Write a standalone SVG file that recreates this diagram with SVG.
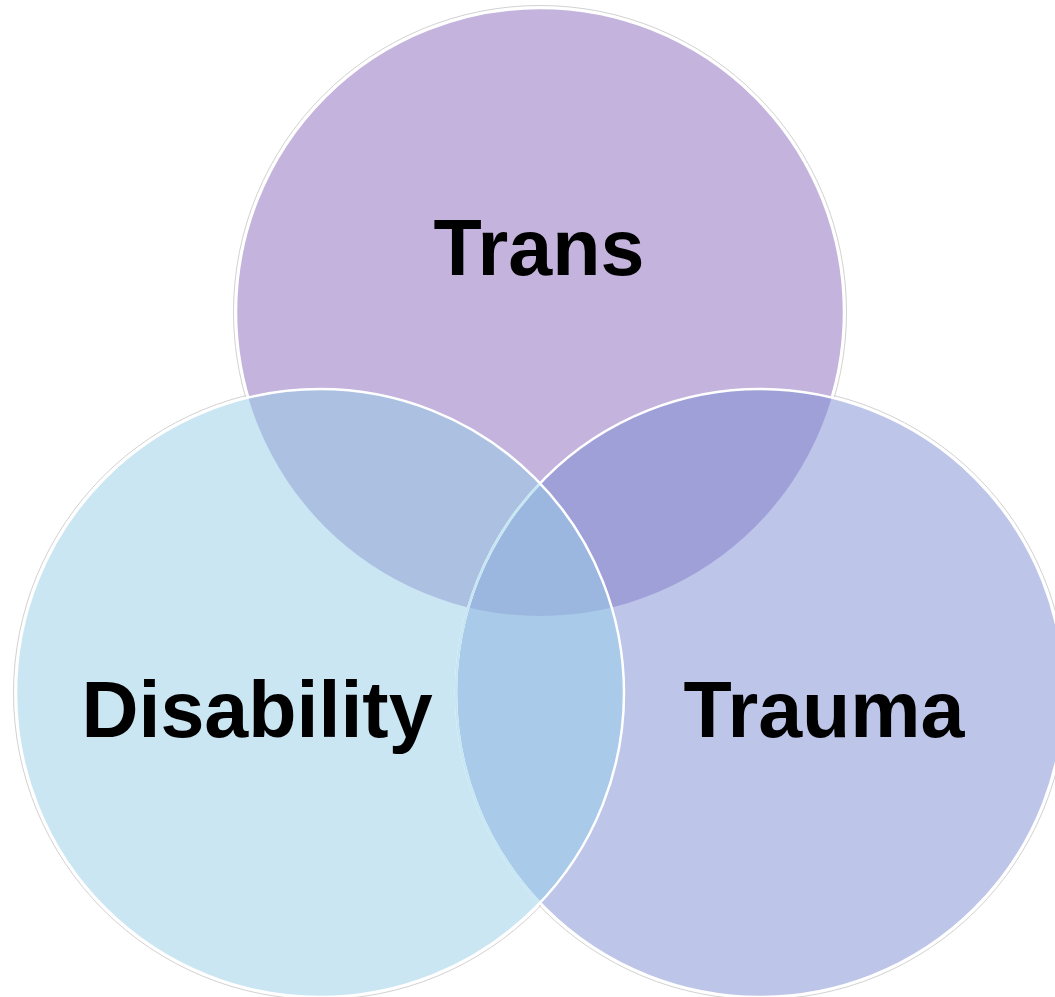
<svg xmlns="http://www.w3.org/2000/svg" width="1055" height="997" viewBox="0 0 1055 997">
<style>
.lbl{font-family:"Liberation Sans",Arial,sans-serif;font-weight:bold;font-size:79px;fill:#000;text-anchor:middle}
.halo{fill:none;stroke:#d2d2d2;stroke-width:1}
.edge{fill:none;stroke:#fff;stroke-width:2.5}
</style>
<defs>
<clipPath id="cT"><circle cx="540" cy="312" r="304"/></clipPath>
<clipPath id="cL"><circle cx="320" cy="693" r="304"/></clipPath>
<clipPath id="cR"><circle cx="760" cy="693" r="304"/></clipPath>
</defs>
<rect width="1055" height="997" fill="#fff"/>
<g id="halos">
<circle class="halo" cx="540" cy="312" r="306.5"/>
<circle class="halo" cx="320" cy="693" r="306.5"/>
<circle class="halo" cx="760" cy="693" r="306.5"/>
</g>
<g id="trans">
<circle cx="540" cy="312" r="304" fill="#C3B3DD" stroke="#fff" stroke-width="2.5"/>
</g>
<g id="trauma">
<circle cx="760" cy="693" r="304" fill="#BDC5E9"/>
</g>
<g id="disability">
<circle cx="320" cy="693" r="304" fill="#CBE6F3"/>
</g>
<g id="overlaps">
<g clip-path="url(#cT)">
<circle cx="320" cy="693" r="304" fill="#ACC1E1"/>
<circle cx="760" cy="693" r="304" fill="#A0A0D8"/>
</g>
<g clip-path="url(#cL)">
<circle cx="760" cy="693" r="304" fill="#A9CAE9"/>
<g clip-path="url(#cT)"><circle cx="760" cy="693" r="304" fill="#9BB7DF"/></g>
</g>
</g>
<g id="connectors">
<circle class="edge" cx="760" cy="693" r="304"/>
<g clip-path="url(#cL)"><circle cx="760" cy="693" r="304" fill="none" stroke="#C6E6F4" stroke-width="2.5"/></g>
<circle class="edge" cx="320" cy="693" r="304"/>
</g>
<text class="lbl" x="539" y="275">Trans</text>
<text class="lbl" x="257" y="737">Disability</text>
<text class="lbl" x="824" y="737">Trauma</text>
</svg>
